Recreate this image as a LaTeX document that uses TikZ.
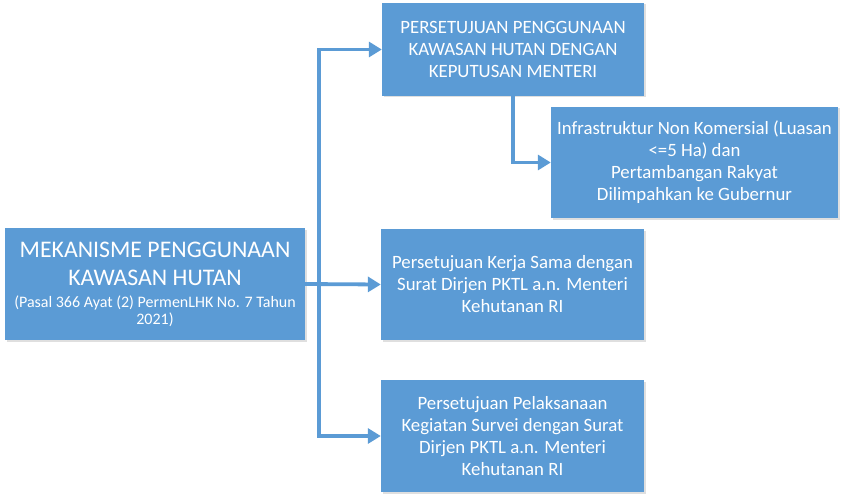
\documentclass[tikz,border=0pt]{standalone}
\usepackage{fontspec}
\setmainfont{Carlito}
\usepackage{tikz}
\usetikzlibrary{arrows.meta,shadows}
\definecolor{boxblue}{HTML}{5B9BD5}
\begin{document}
\begin{tikzpicture}[x=1pt,y=-1pt]
            \tikzstyle{box}=[fill=boxblue,text=white,align=center,inner sep=0pt,
                drop shadow={opacity=0.25,shadow xshift=1.5pt,shadow yshift=-1.5pt},
                font={\fontsize{18.8}{22}\selectfont}]
            \tikzstyle{link}=[draw=boxblue,line width=3.8pt,line cap=rect,-{Triangle[length=13pt,width=15pt]}]
            \useasboundingbox (0,0) rectangle (846,500);
            \node[box,minimum width=300pt,minimum height=112pt,font={\fontsize{23.8}{28}\selectfont}] (mekanisme) at (155,284)
                {MEKANISME PENGGUNAAN\\KAWASAN HUTAN\\[-6pt]
                 {\fontsize{16}{17}\selectfont (Pasal 366 Ayat (2) PermenLHK No. 7 Tahun}\\[-11pt]{\fontsize{16}{17}\selectfont 2021)}};
            \node[box,minimum width=262pt,minimum height=93pt] (keputusan) at (513,49.5)
                {PERSETUJUAN PENGGUNAAN\\KAWASAN HUTAN DENGAN\\KEPUTUSAN MENTERI};
            \node[box,minimum width=287pt,minimum height=111pt] (gubernur) at (694.5,162.5)
                {Infrastruktur Non Komersial (Luasan\\<=5 Ha) dan\\Pertambangan Rakyat\\Dilimpahkan ke Gubernur};
            \node[box,minimum width=263pt,minimum height=111pt] (kerjasama) at (512.5,284.5)
                {Persetujuan Kerja Sama dengan\\Surat Dirjen PKTL a.n. Menteri\\Kehutanan RI};
            \node[box,minimum width=263pt,minimum height=112pt] (survei) at (512.5,436)
                {Persetujuan Pelaksanaan\\Kegiatan Survei dengan Surat\\Dirjen PKTL a.n. Menteri\\Kehutanan RI};
            \coordinate (trunk) at (319,284);
            \draw[link] (mekanisme.east) -- (kerjasama.west);
            \draw[link] (trunk |- survei.west) -- (trunk |- keputusan.west) -- (keputusan.west);
            \draw[link] (trunk |- survei.west) -- (survei.west);
            \draw[link,line cap=butt] (keputusan.south) |- (gubernur.west);
        \end{tikzpicture}
\end{document}
